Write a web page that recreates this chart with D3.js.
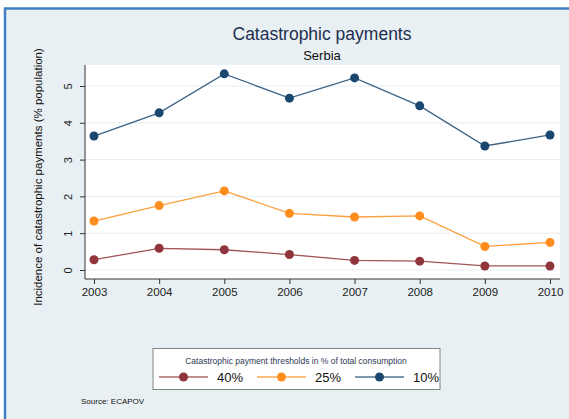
<!DOCTYPE html>
<html>
<head>
<meta charset="utf-8">
<script src="https://cdn.jsdelivr.net/npm/d3@7"></script>
<style>
  body { margin: 0; background: #fff; }
  svg { display: block; font-family: "Liberation Sans", Arial, sans-serif; }
</style>
</head>
<body>
<svg></svg>
<script>
const [width, height] = [569, 419];

// data
const years = [2003, 2004, 2005, 2006, 2007, 2008, 2009, 2010];
const pct40 = [0.28, 0.59, 0.55, 0.42, 0.26, 0.24, 0.11, 0.11];
const pct25 = [1.33, 1.75, 2.15, 1.54, 1.44, 1.47, 0.64, 0.75];
const pct10 = [3.64, 4.27, 5.33, 4.67, 5.22, 4.46, 3.37, 3.67];
const seriesNames = ['40%', '25%', '10%'];
const seriesColors = ['#90353b', '#fd8e1d', '#1a476f'];
const yTicks = [0, 1, 2, 3, 4, 5];

const series = [pct40, pct25, pct10].map((vals, i) => ({
  name: seriesNames[i],
  color: seriesColors[i],
  values: vals.map((v, j) => ({ year: years[j], v }))
}));

const svg = d3.select('svg').attr('width', width).attr('height', height);

// outer frame
svg.append('rect').attr('x', 4).attr('y', 8).attr('width', width).attr('height', height)
  .attr('fill', '#e8f0f3');
svg.append('path').attr('d', `M5,${height} V8.5 H${width}`)
  .attr('fill', 'none').attr('stroke', '#3f7fc4').attr('stroke-width', 2.5);

const plot = { left: 85, right: 560, top: 65, bottom: 279 };

const x = d3.scaleLinear().domain([2003, 2010]).range([94, 550]);
const y = d3.scaleLinear().domain([0, 5]).range([270, 86]);

svg.append('rect')
  .attr('x', plot.left).attr('y', plot.top)
  .attr('width', plot.right - plot.left).attr('height', plot.bottom - plot.top)
  .attr('fill', '#fff');

// grid
svg.append('g').selectAll('line').data(yTicks).join('line')
  .attr('x1', plot.left).attr('x2', plot.right)
  .attr('y1', d => y(d)).attr('y2', d => y(d))
  .attr('stroke', '#e6eef1').attr('stroke-width', 1);

// axes
const yAxis = svg.append('g').attr('transform', `translate(${plot.left},0)`)
  .call(d3.axisLeft(y).tickValues(yTicks).tickFormat(d3.format('d')).tickSize(5).tickSizeOuter(0));
yAxis.select('.domain').attr('d', `M0,${plot.top}V${plot.bottom}`).attr('stroke', '#333');
yAxis.selectAll('.tick line').attr('stroke', '#333');
yAxis.selectAll('.tick text')
  .attr('x', 0).attr('dy', 0)
  .attr('transform', 'translate(-13,0) rotate(-90)')
  .attr('text-anchor', 'middle')
  .attr('font-size', 11).attr('fill', '#222');

const xAxis = svg.append('g').attr('transform', `translate(0,${plot.bottom})`)
  .call(d3.axisBottom(x).tickValues(years).tickFormat(d3.format('d')).tickSize(5).tickSizeOuter(0));
xAxis.select('.domain').attr('d', `M${plot.left},0H${plot.right}`).attr('stroke', '#333');
xAxis.selectAll('.tick line').attr('stroke', '#333');
xAxis.selectAll('.tick text').attr('y', 9).attr('font-size', 11.5).attr('fill', '#222');
xAxis.selectAll('text').attr('font-family', null);

yAxis.selectAll('text').attr('font-family', null);

// lines
const line = d3.line().x(d => x(d.year)).y(d => y(d.v));
const sg = svg.append('g').selectAll('g').data(series).join('g');
sg.append('path')
  .attr('d', d => line(d.values))
  .attr('fill', 'none').attr('stroke', d => d.color).attr('stroke-width', 1.3)
  .attr('stroke-opacity', 0.85);
sg.selectAll('circle').data(d => d.values.map(p => ({ ...p, color: d.color }))).join('circle')
  .attr('cx', d => x(d.year)).attr('cy', d => y(d.v)).attr('r', 4.5)
  .attr('fill', d => d.color);

// titles
svg.append('text').attr('x', 322).attr('y', 40).attr('text-anchor', 'middle')
  .attr('font-size', 17.5).attr('fill', '#1c2f4f').text('Catastrophic payments');
svg.append('text').attr('x', 322).attr('y', 60).attr('text-anchor', 'middle')
  .attr('font-size', 13).attr('fill', '#111').text('Serbia');

svg.append('text')
  .attr('transform', `translate(42,${(plot.top + plot.bottom) / 2 + 5}) rotate(-90)`)
  .attr('text-anchor', 'middle').attr('font-size', 11.5).attr('fill', '#111')
  .text('Incidence of catastrophic payments (% population)');

// legend
const lg = svg.append('g');
lg.append('rect').attr('x', 153).attr('y', 348.5).attr('width', 287).attr('height', 41)
  .attr('fill', '#fff').attr('stroke', '#666').attr('stroke-width', 0.8);
lg.append('text').attr('x', 296).attr('y', 364).attr('text-anchor', 'middle')
  .attr('font-size', 8.5).attr('fill', '#2b3a55')
  .text('Catastrophic payment thresholds in % of total consumption');
const items = lg.selectAll('g').data(series).join('g')
  .attr('transform', (d, i) => `translate(${159 + i * 98},377)`);
items.append('line').attr('x1', 0).attr('x2', 49)
  .attr('stroke', d => d.color).attr('stroke-width', 1.3).attr('opacity', 0.75);
items.append('circle').attr('cx', 24.5).attr('r', 4.5).attr('fill', d => d.color);
items.append('text').attr('x', 58).attr('y', 5).attr('font-size', 13).attr('fill', '#111')
  .text(d => d.name);

svg.append('text').attr('x', 81).attr('y', 404).attr('font-size', 8).attr('fill', '#111')
  .text('Source: ECAPOV');
</script>
</body>
</html>
